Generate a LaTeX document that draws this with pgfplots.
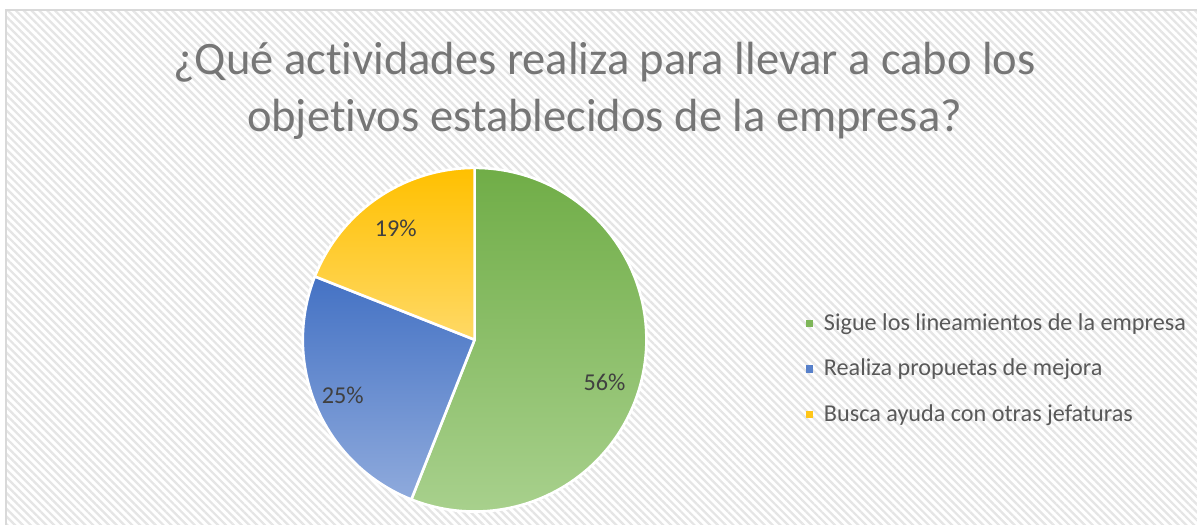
\documentclass[border=0pt]{standalone}
\usepackage{fontspec}
\setmainfont{Carlito}[Ligatures=NoCommon]
\usepackage{pgfplots}
\usepackage{pgfplotstable}
\pgfplotsset{compat=1.18}
\usetikzlibrary{patterns.meta}

\definecolor{titlegray}{HTML}{767676}
\definecolor{textgray}{HTML}{595959}
\definecolor{labelgray}{HTML}{404040}
\definecolor{borderGray}{HTML}{D9D9D9}
\definecolor{greenTop}{HTML}{70AD47}
\definecolor{greenBot}{HTML}{A9D18E}
\definecolor{blueTop}{HTML}{4472C4}
\definecolor{blueBot}{HTML}{8FAADC}
\definecolor{yellowTop}{HTML}{FFC000}
\definecolor{yellowBot}{HTML}{FFD966}

% pie shares in percent
\pgfplotstableread{
idx value
0 56
1 25
2 19
}\piedata

\pgfplotstablegetelem{0}{value}\of\piedata \let\va\pgfplotsretval
\pgfplotstablegetelem{1}{value}\of\piedata \let\vb\pgfplotsretval
\pgfplotstablegetelem{2}{value}\of\piedata \let\vc\pgfplotsretval
\pgfmathsetmacro\aA{90}
\pgfmathsetmacro\aB{90-3.6*\va}
\pgfmathsetmacro\aC{\aB-3.6*\vb}
\pgfmathsetmacro\aD{\aC-3.6*\vc}
\def\R{2.297cm}

\begin{document}
\begin{tikzpicture}
\begin{axis}[
    scale only axis,
    width=16cm, height=7.012cm,
    xmin=0, xmax=1198, ymin=0, ymax=525,
    y dir=reverse,
    hide axis,
    clip=false,
    legend style={at={(axis cs:806,370)}, anchor=west, draw=none, fill=none,
        font=\fontsize{9.2}{11}\selectfont\color{textgray},
        row sep=9.1pt, inner sep=0pt,
        nodes={inner sep=0pt, text height=6.4pt, text depth=1.8pt}},
    legend cell align=left,
    /tikz/every even column/.append style={column sep=0pt},
    legend image code/.code={\fill[#1, draw=none] (0pt,-1.1pt) rectangle (2.7pt,1.6pt);},
]
% background with diagonal hatch
\path[fill=white] (axis cs:0,0) rectangle (axis cs:1198,525);
\fill[pattern={Lines[angle=-45,distance=2.1pt,line width=0.85pt]}, pattern color=gray!20]
    (axis cs:6,10) rectangle (axis cs:1198,525);
\draw[borderGray, line width=0.8pt] (axis cs:6,525) -- (axis cs:6,10) -- (axis cs:1198,10);

% title (base anchor sits on the last line)
\node[anchor=base, align=center, text=titlegray, font=\fontsize{17.7}{21.7}\selectfont]
    at (axis cs:605,131.5) {¿Qué actividades realiza para llevar a cabo los\\objetivos establecidos de la empresa?};

% slices
\path[top color=greenTop, bottom color=greenBot, draw=white, line width=1pt, line join=round]
    (axis cs:475,340) -- ++(\aA:\R) arc[start angle=\aA, end angle=\aB, radius=\R] -- cycle;
\path[top color=blueTop, bottom color=blueBot, draw=white, line width=1pt, line join=round]
    (axis cs:475,340) -- ++(\aB:\R) arc[start angle=\aB, end angle=\aC, radius=\R] -- cycle;
\path[top color=yellowTop, bottom color=yellowBot, draw=white, line width=1pt, line join=round]
    (axis cs:475,340) -- ++(\aC:\R) arc[start angle=\aC, end angle=\aD, radius=\R] -- cycle;

% data labels
\node[text=labelgray, font=\fontsize{9.2}{11}\selectfont] at (axis cs:605,383) {\va\%};
\node[text=labelgray, font=\fontsize{9.2}{11}\selectfont] at (axis cs:343,396) {\vb\%};
\node[text=labelgray, font=\fontsize{9.2}{11}\selectfont] at (axis cs:396,229) {\vc\%};

\addlegendimage{fill=greenTop!75!greenBot}
\addlegendentry{\hspace{4.2pt}Sigue los lineamientos de la empresa}
\addlegendimage{fill=blueTop!75!blueBot}
\addlegendentry{\hspace{4.2pt}Realiza propuetas de mejora}
\addlegendimage{fill=yellowTop!75!yellowBot}
\addlegendentry{\hspace{4.2pt}Busca ayuda con otras jefaturas}
\end{axis}
\end{tikzpicture}
\end{document}
